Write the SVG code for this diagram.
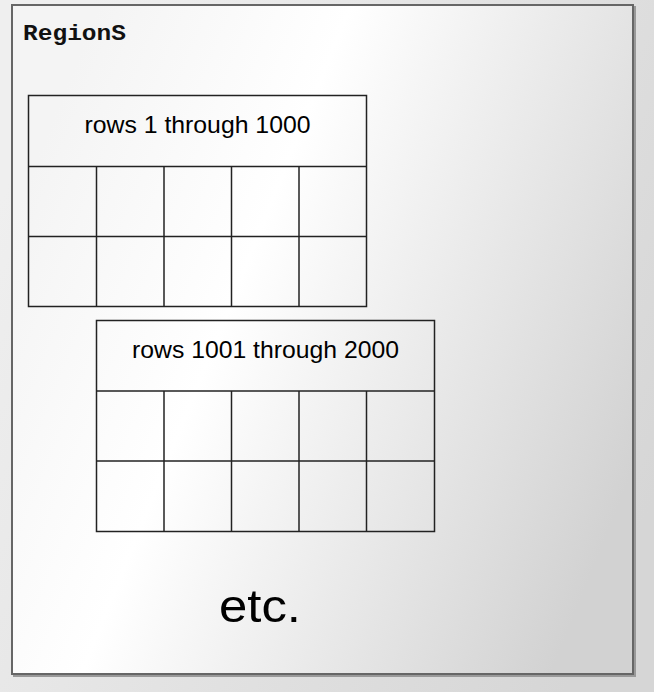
<svg xmlns="http://www.w3.org/2000/svg" width="654" height="692" viewBox="0 0 654 692">
  <defs>
    <linearGradient id="bg" gradientUnits="userSpaceOnUse" x1="0" y1="200" x2="654" y2="500">
      <stop offset="0" stop-color="#efefef"/>
      <stop offset="1" stop-color="#d6d6d6"/>
    </linearGradient>
    <linearGradient id="panel" gradientUnits="userSpaceOnUse" x1="12" y1="220" x2="633" y2="470">
      <stop offset="0" stop-color="#f4f4f4"/>
      <stop offset="0.35" stop-color="#ffffff"/>
      <stop offset="1" stop-color="#d2d2d2"/>
    </linearGradient>
    <style>
      .grid { fill: none; stroke: #222; stroke-width: 1.5; }
      .lbl { font-family: "Liberation Sans", Arial, sans-serif; font-size: 24px; fill: #000; text-anchor: middle; }
    </style>
  </defs>
  <rect x="0" y="0" width="654" height="692" fill="url(#bg)"/>
  <g id="regions">
    <rect x="14" y="7" width="621" height="669" fill="none" stroke="#999" stroke-width="2"/>
    <rect x="12" y="5" width="621" height="669" fill="url(#panel)" stroke="#666" stroke-width="2"/>
    <text x="23" y="40" font-family="'Liberation Mono', 'Courier New', monospace" font-weight="bold" font-size="22" fill="#111" textLength="103" lengthAdjust="spacingAndGlyphs">RegionS</text>
  </g>
  <g id="table1">
    <rect class="grid" x="28.5" y="95.5" width="338" height="211"/>
    <line class="grid" x1="28.5" y1="166.5" x2="366.5" y2="166.5"/>
    <line class="grid" x1="28.5" y1="236.5" x2="366.5" y2="236.5"/>
    <line class="grid" x1="96.5" y1="166.5" x2="96.5" y2="306.5"/>
    <line class="grid" x1="164" y1="166.5" x2="164" y2="306.5"/>
    <line class="grid" x1="231.5" y1="166.5" x2="231.5" y2="306.5"/>
    <line class="grid" x1="299" y1="166.5" x2="299" y2="306.5"/>
    <text class="lbl" x="197.5" y="133" textLength="226" lengthAdjust="spacingAndGlyphs">rows 1 through 1000</text>
  </g>
  <g id="table2">
    <rect class="grid" x="96.5" y="320.5" width="338" height="211"/>
    <line class="grid" x1="96.5" y1="391" x2="434.5" y2="391"/>
    <line class="grid" x1="96.5" y1="461" x2="434.5" y2="461"/>
    <line class="grid" x1="164" y1="391" x2="164" y2="531.5"/>
    <line class="grid" x1="231.5" y1="391" x2="231.5" y2="531.5"/>
    <line class="grid" x1="299" y1="391" x2="299" y2="531.5"/>
    <line class="grid" x1="366.5" y1="391" x2="366.5" y2="531.5"/>
    <text class="lbl" x="265.5" y="357.5" textLength="267" lengthAdjust="spacingAndGlyphs">rows 1001 through 2000</text>
  </g>
  <g id="etc">
    <text x="260" y="622" font-family="'Liberation Sans', Arial, sans-serif" font-size="46" fill="#000" text-anchor="middle" textLength="82" lengthAdjust="spacingAndGlyphs">etc.</text>
  </g>
  <g id="connectors"/>
</svg>
